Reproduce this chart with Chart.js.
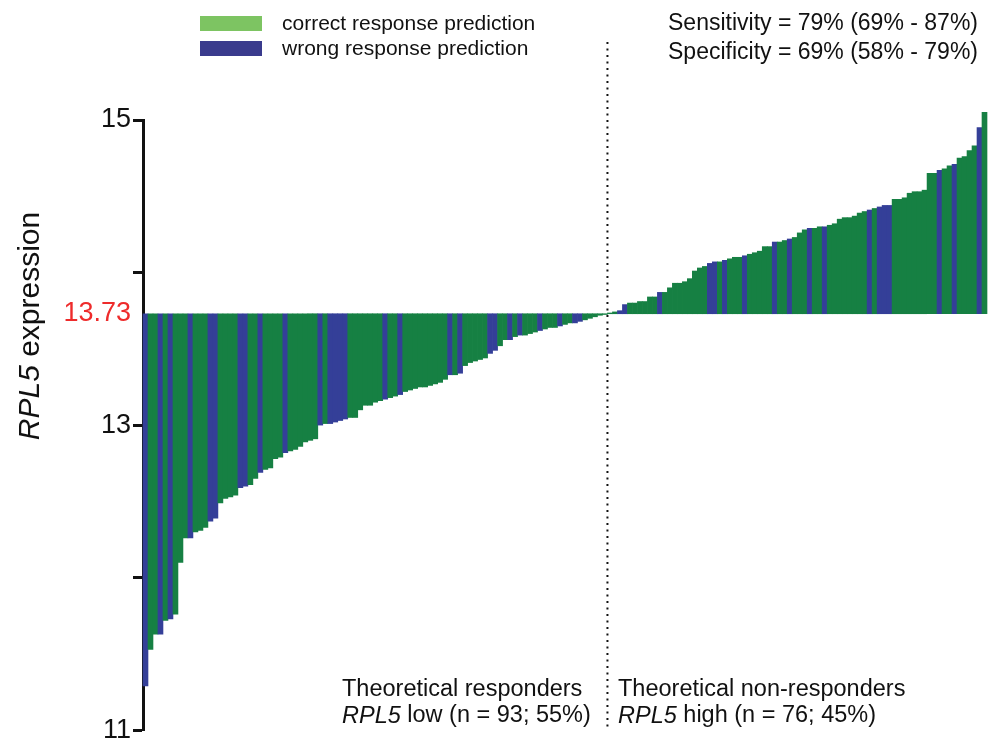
<!DOCTYPE html>
<html>
<head>
<meta charset="utf-8">
<script src="https://cdn.jsdelivr.net/npm/chart.js@4"></script>
<style>
  html, body { margin: 0; padding: 0; background: #fff; }
  #wrap { width: 995px; height: 743px; position: relative; }
</style>
</head>
<body>
<div id="wrap"><canvas id="waterfall"></canvas></div>
<script>
// RPL5 waterfall: one bar per sample, floating from the expression cut-off
const cutoff = 13.73;

// RPL5 low samples (theoretical responders), sorted ascending
const lowValues = [
  11.29, 11.53, 11.63, 11.63, 11.72, 11.73, 11.76, 12.10, 12.26, 12.26,
  12.30, 12.31, 12.33, 12.37, 12.39, 12.49, 12.52, 12.53, 12.54, 12.59,
  12.60, 12.61, 12.65, 12.69, 12.71, 12.72, 12.78, 12.79, 12.82, 12.83,
  12.84, 12.86, 12.89, 12.90, 12.91, 13.00, 13.01, 13.01, 13.02, 13.03,
  13.04, 13.05, 13.05, 13.10, 13.13, 13.13, 13.15, 13.16, 13.17, 13.18,
  13.19, 13.20, 13.22, 13.23, 13.24, 13.25, 13.25, 13.26, 13.27, 13.28,
  13.30, 13.33, 13.33, 13.34, 13.39, 13.41, 13.42, 13.43, 13.44, 13.47,
  13.49, 13.52, 13.56, 13.56, 13.58, 13.59, 13.59, 13.60, 13.61, 13.62,
  13.63, 13.64, 13.64, 13.65, 13.66, 13.67, 13.67, 13.68, 13.69, 13.70,
  13.71, 13.72, 13.725
];
// 1 = wrong response prediction, 0 = correct
const lowWrong = [
  1, 0, 0, 1, 0, 1, 0, 0, 0, 1,
  0, 0, 0, 1, 1, 0, 0, 0, 0, 1,
  1, 0, 0, 1, 0, 0, 0, 0, 1, 0,
  0, 0, 0, 0, 0, 1, 0, 1, 1, 1,
  1, 0, 0, 0, 0, 0, 0, 0, 1, 0,
  0, 1, 0, 0, 0, 0, 0, 0, 0, 0,
  0, 1, 0, 1, 0, 0, 0, 0, 0, 1,
  1, 0, 0, 1, 0, 1, 0, 0, 0, 1,
  0, 0, 0, 1, 0, 0, 1, 1, 0, 0,
  0, 0, 0
];

// RPL5 high samples (theoretical non-responders), sorted ascending
const highValues = [
  13.735, 13.742, 13.75, 13.79, 13.80, 13.80, 13.81, 13.81, 13.84, 13.84,
  13.87, 13.87, 13.90, 13.93, 13.93, 13.94, 13.96, 14.01, 14.03, 14.04,
  14.06, 14.07, 14.07, 14.08, 14.09, 14.10, 14.10, 14.11, 14.12, 14.13,
  14.14, 14.17, 14.17, 14.20, 14.20, 14.21, 14.22, 14.23, 14.26, 14.28,
  14.29, 14.29, 14.30, 14.30, 14.31, 14.32, 14.35, 14.36, 14.36, 14.37,
  14.39, 14.40, 14.41, 14.42, 14.43, 14.44, 14.44, 14.48, 14.48, 14.49,
  14.52, 14.53, 14.53, 14.54, 14.65, 14.65, 14.67, 14.68, 14.70, 14.71,
  14.75, 14.76, 14.80, 14.83, 14.95, 15.05
];
const highWrong = [
  0, 0, 1, 1, 0, 0, 0, 0, 0, 0,
  1, 0, 0, 0, 0, 0, 0, 0, 0, 0,
  1, 1, 0, 1, 0, 0, 0, 1, 0, 0,
  0, 0, 0, 1, 0, 0, 1, 0, 0, 0,
  1, 0, 0, 1, 0, 0, 0, 0, 0, 0,
  0, 0, 1, 0, 1, 1, 1, 0, 0, 0,
  0, 0, 0, 0, 0, 0, 1, 0, 0, 1,
  0, 0, 0, 0, 1, 0
];

const yTicks = [11, 12, 13, 14, 15];
const yLabelled = [11, 13, 15];

const FONT = "'Liberation Sans', Arial, Helvetica, sans-serif";
const GREEN = '#168043';
const BLUE = '#343f98';
const GREEN_KEY = '#7dc462';
const BLUE_KEY = '#3a3b8d';
const RED = '#ee2b2b';

const values = lowValues.concat(highValues);
const wrong = lowWrong.concat(highWrong);
const sampleIds = values.map((_, i) => i + 1);

const total = values.length;
const lowPct = Math.round(lowValues.length / total * 100);
const highPct = Math.round(highValues.length / total * 100);

// text pieces: [string, italic?]
function drawRich(ctx, parts, x, y, size) {
    let cx = x;
    parts.forEach(([txt, italic]) => {
        ctx.font = (italic ? 'italic ' : '') + size + 'px ' + FONT;
        ctx.fillText(txt, cx, y);
        cx += ctx.measureText(txt).width;
    });
}

function richWidth(ctx, parts, size) {
    let w = 0;
    parts.forEach(([txt, italic]) => {
        ctx.font = (italic ? 'italic ' : '') + size + 'px ' + FONT;
        w += ctx.measureText(txt).width;
    });
    return w;
}

const annotations = {
    id: 'annotations',
    afterDraw(chart) {
        const ctx = chart.ctx;
        const x = chart.scales.x;
        ctx.save();
        ctx.fillStyle = '#111';
        ctx.textBaseline = 'middle';
        ctx.textAlign = 'left';

        // legend
        ctx.fillStyle = GREEN_KEY;
        ctx.fillRect(200, 16, 62, 15);
        ctx.fillStyle = BLUE_KEY;
        ctx.fillRect(200, 41, 62, 15);
        ctx.fillStyle = '#111';
        ctx.font = '21px ' + FONT;
        ctx.fillText('correct response prediction', 282, 24);
        ctx.fillText('wrong response prediction', 282, 49);

        // diagnostic performance
        ctx.font = '23px ' + FONT;
        ctx.fillText('Sensitivity = 79% (69% - 87%)', 668, 24);
        ctx.fillText('Specificity = 69% (58% - 79%)', 668, 53);

        // dotted split between the two groups
        const n = lowValues.length;
        const splitX = (x.getPixelForValue(n - 1) + x.getPixelForValue(n)) / 2;
        ctx.strokeStyle = '#111';
        ctx.lineWidth = 2;
        ctx.setLineDash([2, 4.5]);
        ctx.beginPath();
        ctx.moveTo(splitX, 42);
        ctx.lineTo(splitX, chart.chartArea.bottom);
        ctx.stroke();
        ctx.setLineDash([]);

        // group captions
        ctx.font = '23.5px ' + FONT;
        ctx.fillText('Theoretical responders', 342, 690);
        drawRich(ctx, [['RPL5', true], [' low (n = ' + lowValues.length + '; ' + lowPct + '%)', false]], 342, 716, 23.5);
        ctx.font = '23.5px ' + FONT;
        ctx.fillText('Theoretical non-responders', 618, 690);
        drawRich(ctx, [['RPL5', true], [' high (n = ' + highValues.length + '; ' + highPct + '%)', false]], 618, 716, 23.5);

        // y axis title
        const title = [['RPL5', true], [' expression', false]];
        const tw = richWidth(ctx, title, 30);
        ctx.translate(31, 326);
        ctx.rotate(-Math.PI / 2);
        drawRich(ctx, title, -tw / 2, 0, 30);
        ctx.restore();
    }
};

new Chart(document.getElementById('waterfall'), {
    type: 'bar',
    data: {
        labels: sampleIds,
        datasets: [{
            data: values.map(v => [cutoff, v]),
            backgroundColor: wrong.map(w => (w ? BLUE : GREEN)),
            borderWidth: 0,
            barPercentage: 1,
            categoryPercentage: 1,
            clip: false
        }]
    },
    options: {
        responsive: true,
        maintainAspectRatio: false,
        animation: false,
        layout: { padding: { top: 120, bottom: 10, left: 0, right: 8 } },
        plugins: {
            legend: { display: false },
            tooltip: { enabled: false }
        },
        scales: {
            x: { display: false },
            y: {
                min: 11,
                max: 15,
                afterBuildTicks: s => {
                    s.ticks = yTicks.concat([cutoff]).sort((a, b) => a - b).map(v => ({ value: v }));
                },
                afterFit: s => { s.width = 143; },
                ticks: {
                    autoSkip: false,
                    padding: 2,
                    font: { family: FONT, size: 27, lineHeight: 0.8 },
                    color: c => (c.tick && c.tick.value === cutoff ? RED : '#111'),
                    callback: v => (v === cutoff ? cutoff.toFixed(2) : (yLabelled.includes(v) ? String(v) : ''))
                },
                grid: {
                    drawOnChartArea: false,
                    drawTicks: true,
                    tickLength: 10,
                    tickWidth: 3,
                    tickColor: c => (c.tick && c.tick.value === cutoff ? 'rgba(0,0,0,0)' : '#111')
                },
                border: { display: true, color: '#111', width: 3 }
            }
        }
    },
    plugins: [annotations]
});
</script>
</body>
</html>
